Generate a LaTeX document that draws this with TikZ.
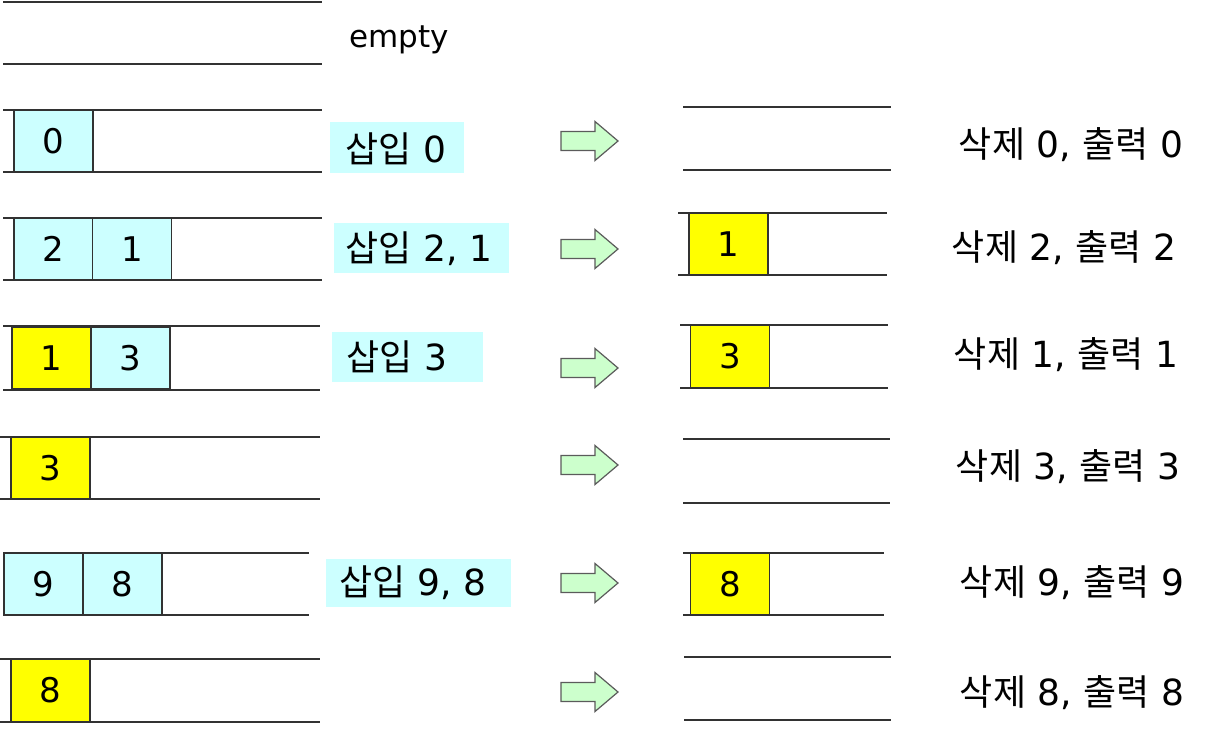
\documentclass[tikz,border=0pt]{standalone}
\usepackage{fontspec}
\setmainfont{DejaVu Sans}
\newfontfamily\kr{Noto Sans CJK KR}
\definecolor{qcyan}{RGB}{204,255,255}
\definecolor{qyellow}{RGB}{255,255,0}
\definecolor{qgreen}{RGB}{204,255,204}
\definecolor{qline}{RGB}{50,50,50}
\begin{document}
\begin{tikzpicture}[x=1pt,y=-1pt,
  qrail/.style={draw=qline,line width=1.8pt},
  cellbase/.style={draw=qline,line width=1.4pt,minimum width=79pt,minimum height=62pt,inner sep=0pt,font=\fontsize{34}{36}\selectfont},
  cyancell/.style={cellbase,fill=qcyan},
  yellowcell/.style={cellbase,fill=qyellow},
  lblbox/.style={fill=qcyan,draw=none},
  lbltext/.style={font=\fontsize{36}{38}\selectfont,inner sep=0pt},
  garr/.style={draw=qline!80,line width=1.2pt,fill=qgreen,line join=miter}
]
\useasboundingbox (0,0) rectangle (1206,741);
\newcommand\rails[4]{\draw[qrail] (#1,#3) -- (#2,#3) (#1,#4) -- (#2,#4);}
\newcommand\garrow[1]{\draw[garr,shift={(0,#1)}] (561,-9.5) -- (595,-9.5) -- (595,-19.5) -- (618,0) -- (595,19.5) -- (595,9.5) -- (561,9.5) -- cycle;}

% ---------- left column ----------
% row 0
\rails{3}{322}{2}{64}
\node[inner sep=0pt,font=\fontsize{31}{33}\selectfont] (empty) at (399,40) {empty};
% row 1
\node[cyancell] (l1a) at (53.5,141) {0};
\rails{3}{322}{110}{172}
\fill[lblbox] (330,122) rectangle (464,173);
\node[lbltext] (ins1) at (396,149) {{\kr 삽입} 0};
% row 2
\node[cyancell] (l2a) at (53.5,249) {2};
\node[cyancell] (l2b) at (132,249) {1};
\rails{3}{322}{218}{280}
\fill[lblbox] (334,223) rectangle (509,273);
\node[lbltext] (ins2) at (419,249) {{\kr 삽입} 2, 1};
% row 3
\node[yellowcell] (l3a) at (51.5,358) {1};
\node[cyancell] (l3b) at (130.5,358) {3};
\rails{3}{320}{326}{390}
\fill[lblbox] (332,332) rectangle (483,382);
\node[lbltext] (ins3) at (397,357) {{\kr 삽입} 3};
% row 4
\node[yellowcell] (l4a) at (50.5,468) {3};
\rails{0}{320}{437}{499}
% row 5
\node[cyancell] (l5a) at (43.5,584) {9};
\node[cyancell] (l5b) at (122.5,584) {8};
\rails{3}{309}{553}{615}
\fill[lblbox] (326,559) rectangle (511,607);
\node[lbltext] (ins5) at (413,583) {{\kr 삽입} 9, 8};
% row 6
\node[yellowcell] (l6a) at (50.5,690.5) {8};
\rails{0}{320}{659}{722}

% ---------- arrows ----------
\garrow{141}
\garrow{249}
\garrow{368}
\garrow{465}
\garrow{583}
\garrow{692}

% ---------- right column ----------
\rails{683}{891}{107}{170}
\node[yellowcell] (r2a) at (728.5,244) {1};
\rails{678}{887}{213}{275}
\node[yellowcell] (r3a) at (730,356.5) {3};
\rails{680}{888}{325}{388}
\rails{683}{890}{439}{503}
\node[yellowcell] (r5a) at (730,584) {8};
\rails{683}{884}{553}{615}
\rails{684}{891}{657}{720}

% ---------- right labels ----------
\node[lbltext] (del1) at (1071,145) {{\kr 삭제} 0, {\kr 출력} 0};
\node[lbltext] (del2) at (1064,248) {{\kr 삭제} 2, {\kr 출력} 2};
\node[lbltext] (del3) at (1066,355) {{\kr 삭제} 1, {\kr 출력} 1};
\node[lbltext] (del4) at (1068,467) {{\kr 삭제} 3, {\kr 출력} 3};
\node[lbltext] (del5) at (1072,583) {{\kr 삭제} 9, {\kr 출력} 9};
\node[lbltext] (del6) at (1072,693) {{\kr 삭제} 8, {\kr 출력} 8};
\end{tikzpicture}
\end{document}
